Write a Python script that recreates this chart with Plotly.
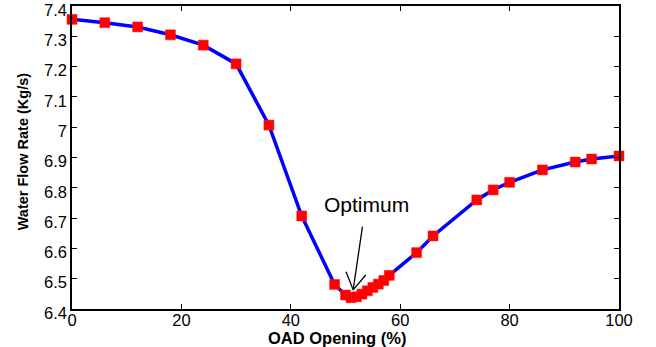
import plotly.graph_objects as go

oad_opening = [0, 6, 12, 18, 24, 30, 36, 42, 48, 50, 51, 52, 53, 54, 55, 56, 57, 58,
               63, 66, 74, 77, 80, 86, 92, 95, 100]
water_flow = [7.356, 7.345, 7.331, 7.305, 7.271, 7.209, 7.007, 6.707, 6.481, 6.446,
              6.437, 6.440, 6.449, 6.460, 6.471, 6.482, 6.494, 6.511,
              6.586, 6.641, 6.760, 6.793, 6.818, 6.859, 6.885, 6.895, 6.905]

x_ticks = [0, 20, 40, 60, 80, 100]
x_ticklabels = ["0", "20", "40", "60", "80", "100"]
y_ticks = [6.4, 6.5, 6.6, 6.7, 6.8, 6.9, 7.0, 7.1, 7.2, 7.3, 7.4]
y_ticklabels = ["6.4", "6.5", "6.6", "6.7", "6.8", "6.9", "7", "7.1", "7.2", "7.3", "7.4"]

FONT = "Liberation Sans, Arial, sans-serif"

fig = go.Figure()
fig.add_trace(go.Scatter(
    x=oad_opening, y=water_flow, mode="lines+markers",
    line=dict(color="#0000ff", width=3.5),
    marker=dict(symbol="square", size=10, color="#ff0000",
                line=dict(color="#ff1a1a", width=0.5)),
    cliponaxis=False,
))

# arrow pointing to the optimum
arrow_color = "black"
fig.add_shape(type="line", xref="x", yref="y",
              x0=53.1, y0=6.672, x1=51.4, y1=6.463,
              line=dict(color=arrow_color, width=1.3))
fig.add_shape(type="line", xref="x", yref="y",
              x0=50.1, y0=6.523, x1=51.4, y1=6.463,
              line=dict(color=arrow_color, width=1.3))
fig.add_shape(type="line", xref="x", yref="y",
              x0=53.7, y0=6.512, x1=51.4, y1=6.463,
              line=dict(color=arrow_color, width=1.3))

fig.add_annotation(
    x=53.9, y=6.745, xref="x", yref="y", text="Optimum", showarrow=False,
    font=dict(family=FONT, size=21, color="black"),
)

# axis titles
fig.add_annotation(
    x=0.484, y=-0.097, xref="paper", yref="paper", xanchor="center", yanchor="middle",
    text="<b>OAD Opening (%)</b>", showarrow=False,
    font=dict(family=FONT, size=16.5, color="black"),
)
fig.add_annotation(
    x=-0.088, y=0.52, xref="paper", yref="paper", xanchor="center", yanchor="middle",
    text="<b>Water Flow Rate (Kg/s)</b>", showarrow=False, textangle=-90,
    font=dict(family=FONT, size=14.5, color="black"),
)

axis_common = dict(
    showline=True, linecolor="black", linewidth=1.5, mirror="ticks",
    ticks="inside", ticklen=5, tickwidth=1, tickcolor="black",
    showgrid=False, zeroline=False, automargin=False,
    ticklabeloverflow="allow",
    tickfont=dict(family=FONT, size=16.5, color="black"),
)

fig.update_layout(
    width=656, height=347,
    margin=dict(l=72, r=37, t=6, b=38),
    plot_bgcolor="white", paper_bgcolor="white",
    showlegend=False,
    xaxis=dict(range=[0, 100], tickvals=x_ticks, ticktext=x_ticklabels,
               ticklabelstandoff=-5, **axis_common),
    yaxis=dict(range=[6.3999, 7.4001], tickvals=y_ticks, ticktext=y_ticklabels,
               ticklabelshift=4, **axis_common),
)

fig.write_html("out.html")
